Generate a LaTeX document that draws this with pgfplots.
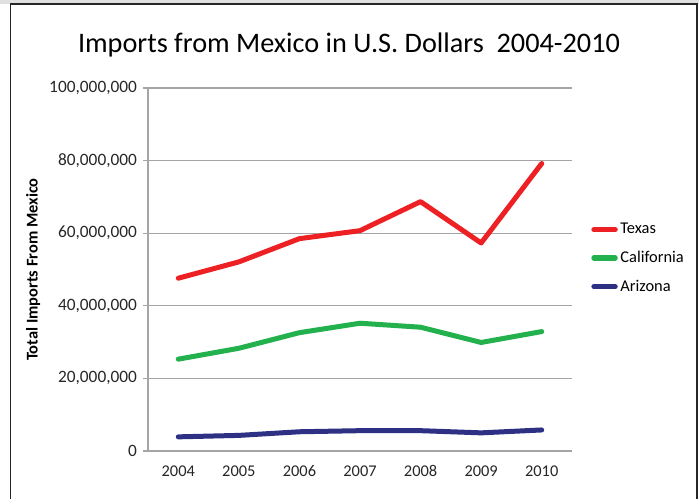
\documentclass[border=0pt]{standalone}
\usepackage{pgfplots}
\pgfplotsset{compat=1.18}
\usepackage{fontspec}
\setmainfont{Carlito}
\definecolor{texred}{RGB}{237,32,36}
\definecolor{calgreen}{RGB}{34,177,76}
\definecolor{aznavy}{RGB}{46,49,131}
\definecolor{gridgray}{RGB}{165,165,165}
\begin{document}
\begin{tikzpicture}
\useasboundingbox (0,0) rectangle (524.25pt,-374.25pt);
\fill[black!12] (0,0) rectangle (524.25pt,-3pt);
\draw[line width=1.2pt, black!85] (7.9pt,-390pt) -- (7.9pt,-3.2pt) -- (522.6pt,-3.2pt) -- (522.6pt,-390pt);
\node[font=\fontsize{21.2}{25}\selectfont] at (261.75pt,-33.75pt) {Imports from Mexico in U.S. Dollars\ \ 2004-2010};
\begin{axis}[
  at={(111pt,-338.25pt)}, anchor=south west,
  scale only axis, width=318pt, height=272.25pt,
  xmin=-0.5, xmax=6.5, ymin=0, ymax=100000000,
  scaled y ticks=false,
  axis x line=bottom, axis y line=left,
  axis line style={-, gridgray, line width=1pt},
  xtick={0,...,6}, xticklabels={2004,2005,2006,2007,2008,2009,2010},
  xtick style={draw=none},
  ytick={0,20000000,40000000,60000000,80000000,100000000},
  yticklabels={0,{20,000,000},{40,000,000},{60,000,000},{80,000,000},{100,000,000}},
  ytick style={gridgray, line width=0.9pt},
  tick align=outside, major tick length=3.75pt,
  ymajorgrids, grid style={gridgray, line width=0.9pt},
  /pgf/number format/assume math mode=true,
  xticklabel style={font=\fontsize{12.3}{14}\selectfont, black!85, text height=1.5ex, text depth=0.25ex, yshift=-5pt},
  yticklabel style={font=\fontsize{13}{15}\selectfont, black!85, xshift=-1pt},
  ylabel={\textbf{Total Imports From Mexico}},
  ylabel style={at={(axis description cs:-0.271,0.5)}, anchor=center, font=\fontsize{12.3}{14}\selectfont},
  legend style={at={(1.045,0.635)}, anchor=north west, draw=none, fill=none,
    font=\fontsize{12.3}{14}\selectfont, row sep=7.5pt, inner sep=0pt},
  legend cell align=left,
  legend image code/.code={\draw[#1, line width=3.8pt, line cap=round] (0pt,0pt) -- (16pt,0pt);},
  every axis plot/.append style={line width=3.75pt, line join=round, line cap=round},
  clip=false,
]
\addplot[texred] coordinates {(0,47600000) (1,52100000) (2,58500000) (3,60700000) (4,68700000) (5,57300000) (6,79200000)};
\addlegendentry{Texas}
\addplot[calgreen] coordinates {(0,25300000) (1,28300000) (2,32600000) (3,35200000) (4,34100000) (5,29900000) (6,32900000)};
\addlegendentry{California}
\addplot[aznavy] coordinates {(0,3900000) (1,4300000) (2,5300000) (3,5600000) (4,5600000) (5,5000000) (6,5800000)};
\addlegendentry{Arizona}
\end{axis}
\end{tikzpicture}
\end{document}
